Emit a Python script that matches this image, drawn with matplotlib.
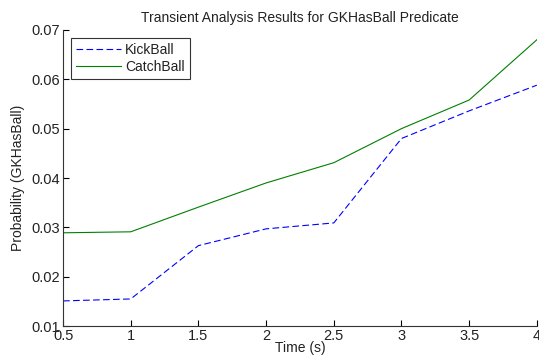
import numpy as np
import matplotlib
matplotlib.use("Agg")
from matplotlib import pyplot as plt

time = [0.5, 1.0, 1.5, 2.0, 2.5, 3.0, 3.5, 4.0]
kick_ball = [0.0151, 0.0155, 0.0263, 0.0297, 0.0309, 0.0480, 0.0536, 0.0588]
catch_ball = [0.0289, 0.0291, 0.0341, 0.0390, 0.0431, 0.0500, 0.0558, 0.0680]

xticks = [0.5, 1, 1.5, 2, 2.5, 3, 3.5, 4]
xtick_labels = ["0.5", "1", "1.5", "2", "2.5", "3", "3.5", "4"]
yticks = [0.01, 0.02, 0.03, 0.04, 0.05, 0.06, 0.07]
ytick_labels = ["0.01", "0.02", "0.03", "0.04", "0.05", "0.06", "0.07"]

plt.rcParams['font.family'] = ['Liberation Sans', 'DejaVu Sans']

fig = plt.figure(figsize=(5.39, 3.56), dpi=100)
ax = fig.add_axes([0.117, 0.084, 0.879, 0.832])

ax.plot(time, kick_ball, color='#0000ff', linestyle=(0, (6, 3)), linewidth=0.8, label='KickBall')
ax.plot(time, catch_ball, color='#008000', linestyle='-', linewidth=0.8, label='CatchBall')

ax.set_xlim(0.5, 4)
ax.set_ylim(0.01, 0.07)
ax.set_xticks(xticks)
ax.set_xticklabels(xtick_labels)
ax.set_yticks(yticks)
ax.set_yticklabels(ytick_labels)
ax.tick_params(direction='in', length=4, labelsize=10.5, width=0.8, pad=2,
               labelcolor='#222222')

ax.spines['top'].set_visible(False)
ax.spines['right'].set_visible(False)
for s in ['left', 'bottom']:
    ax.spines[s].set_linewidth(0.8)
    ax.spines[s].set_color('#333333')

ax.set_title('Transient Analysis Results for GKHasBall Predicate', fontsize=10, pad=6,
             color='#222222')
ax.set_xlabel('Time (s)', fontsize=10, labelpad=-1, color='#222222')
ax.set_ylabel('Probability (GKHasBall)', fontsize=10, labelpad=5, color='#222222')

leg = ax.legend(loc='upper left', fontsize=10, frameon=True, fancybox=False,
                edgecolor='black', handlelength=3.2, handletextpad=0.3,
                borderpad=0.4, labelspacing=0.2, borderaxespad=0.55)
leg.get_frame().set_linewidth(0.8)
for t in leg.get_texts():
    t.set_color('#222222')

fig.savefig('out.png', dpi=100)
